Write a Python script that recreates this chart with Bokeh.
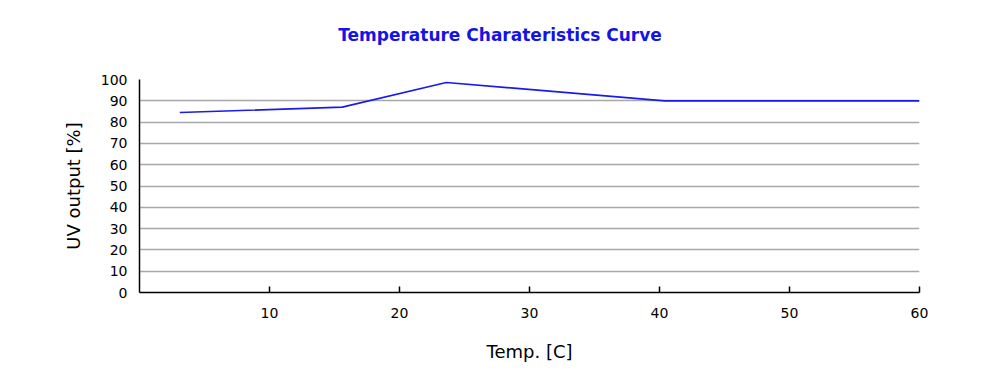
from bokeh.plotting import figure
from bokeh.models import FixedTicker, Range1d, Div
from bokeh.layouts import column
from bokeh.embed import file_html
from bokeh.resources import INLINE

temp = [3.1, 15.6, 23.6, 40.4, 60.0]
uv_output = [84.5, 87.0, 98.6, 90.0, 90.0]
x_ticks = [10, 20, 30, 40, 50, 60]
y_ticks = [0, 10, 20, 30, 40, 50, 60, 70, 80, 90, 100]
title_text = "Temperature Charateristics Curve"

FONT = "DejaVu Sans"

header = Div(text=('<div style="width:1000px;padding-top:24px;text-align:center;'
                   'font-family:\'DejaVu Sans\';font-weight:bold;font-size:17px;'
                   'line-height:22px;color:#1414e6;">' + title_text + '</div>'),
             width=1000, height=48, margin=(0, 0, 0, 0))

p = figure(width=992, height=326, output_backend="svg", toolbar_location=None,
           x_range=Range1d(0, 60), y_range=Range1d(0, 100),
           min_border_left=139, min_border_right=73, min_border_top=31, min_border_bottom=82,
           margin=(0, 0, 0, 0))

p.line(temp, uv_output, line_color="#1a1aee", line_width=1.7)

p.outline_line_color = None
p.xgrid.grid_line_color = None
p.ygrid.ticker = FixedTicker(ticks=y_ticks)
p.ygrid.grid_line_color = "#a8a8a8"
p.ygrid.grid_line_width = 1.3

p.xaxis.ticker = FixedTicker(ticks=x_ticks)
p.xaxis.axis_label = "Temp. [C]"
p.xaxis.major_tick_in = 6
p.xaxis.major_tick_out = 0
p.xaxis.minor_tick_line_color = None
p.xaxis.axis_line_color = "black"
p.xaxis.axis_line_width = 1.5
p.xaxis.major_tick_line_width = 1.5
p.xaxis.major_label_text_font = FONT
p.xaxis.major_label_text_font_size = "14px"
p.xaxis.major_label_text_color = "black"
p.xaxis.major_label_standoff = 15
p.xaxis.axis_label_text_font = FONT
p.xaxis.axis_label_text_font_size = "18px"
p.xaxis.axis_label_text_font_style = "normal"
p.xaxis.axis_label_text_color = "black"
p.xaxis.axis_label_standoff = 20

p.yaxis.ticker = FixedTicker(ticks=y_ticks)
p.yaxis.axis_label = "UV output [%]"
p.yaxis.major_tick_in = 0
p.yaxis.major_tick_out = 0
p.yaxis.minor_tick_line_color = None
p.yaxis.axis_line_color = "black"
p.yaxis.axis_line_width = 1.5
p.yaxis.major_label_text_font = FONT
p.yaxis.major_label_text_font_size = "14px"
p.yaxis.major_label_text_color = "black"
p.yaxis.major_label_standoff = 12
p.yaxis.axis_label_text_font = FONT
p.yaxis.axis_label_text_font_size = "18px"
p.yaxis.axis_label_text_font_style = "normal"
p.yaxis.axis_label_text_color = "black"
p.yaxis.axis_label_standoff = 14

layout = column(header, p, spacing=0)

open("out.html", "w").write(file_html(layout, INLINE))
